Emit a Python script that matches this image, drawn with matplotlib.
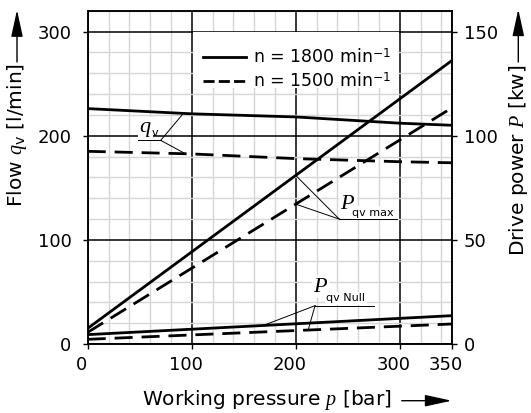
import numpy as np
import matplotlib
matplotlib.use("Agg")
import matplotlib.pyplot as plt
import matplotlib.transforms as mtransforms
from matplotlib.lines import Line2D
from matplotlib.patches import Rectangle, FancyArrowPatch, ArrowStyle

plt.rcParams['font.family'] = 'DejaVu Sans'
plt.rcParams['mathtext.fontset'] = 'custom'
plt.rcParams['mathtext.rm'] = 'DejaVu Sans'
plt.rcParams['mathtext.it'] = 'Liberation Serif:italic'

# flow curves (l/min) over working pressure (bar)
p_flow = [0, 100, 200, 300, 350]
qv_1800 = [226, 221, 218, 212, 210]
qv_1500 = [185, 182.5, 178, 175, 174]

# drive power curves (kW)
p_power = [0, 350]
pmax_1800 = [7.5, 136]
pmax_1500 = [5.6, 113.3]
pnull_1800 = [4.5, 13.6]
pnull_1500 = [2.25, 9.6]

x_ticks = [0, 100, 200, 300, 350]
flow_ticks = [0, 100, 200, 300]
power_ticks = [0, 50, 100, 150]
speed_labels = ['n = 1800 min$^{\\mathrm{-1}}$', 'n = 1500 min$^{\\mathrm{-1}}$']

W, H = 531, 413
fig = plt.figure(figsize=(W / 100, H / 100), dpi=100)
ax = fig.add_axes([87.7 / W, 1 - 344 / H, 364 / W, 333.3 / H])
ax2 = ax.twinx()

ax.set_xlim(0, 350)
ax.set_ylim(0, 320)
ax2.set_ylim(0, 160)

# grid: light every 20, black at the hundreds
ax.set_xticks(np.arange(0, 351, 20), minor=True)
ax.set_yticks(np.arange(0, 321, 20), minor=True)
ax.grid(which='minor', color='#d6d6d6', lw=1.0, zorder=0)
ax.grid(which='major', color='black', lw=1.1, zorder=0.5)
ax.set_axisbelow(True)
ax.set_xticks(x_ticks)
ax.set_yticks(flow_ticks)
ax2.set_yticks(power_ticks)

fs = 13
ax.tick_params(which='minor', length=0)
ax.tick_params(axis='y', which='major', direction='out', length=3.6, width=1, pad=8, labelsize=fs)
ax.tick_params(axis='x', which='major', direction='out', length=3.6, width=1, pad=5, labelsize=fs)
ax2.tick_params(axis='y', direction='out', length=3.6, width=1, pad=5, labelsize=fs)
for a in (ax, ax2):
    for s in a.spines.values():
        s.set_linewidth(1.1)

shift = mtransforms.ScaledTranslation(-6 / 100, 0, fig.dpi_scale_trans)
for lab in ax.get_xticklabels():
    lab.set_transform(lab.get_transform() + shift)

dash = (6.5, 3.2)
lw = 2.0
ax.plot(p_flow, qv_1800, color='black', lw=lw, zorder=3)
ax.plot(p_flow, qv_1500, color='black', lw=lw, dashes=dash, zorder=3)
ax2.plot(p_power, pmax_1800, color='black', lw=lw)
ax2.plot(p_power, pmax_1500, color='black', lw=lw, dashes=dash)
ax2.plot(p_power, pnull_1800, color='black', lw=lw)
ax2.plot(p_power, pnull_1500, color='black', lw=lw, dashes=dash)

# legend sits on a white patch over the grid
ax.add_patch(Rectangle((101, 246), 198, 53.5, facecolor='white', edgecolor='none', zorder=1))
handles = [Line2D([], [], color='black', lw=lw),
           Line2D([], [], color='black', lw=lw, dashes=(4.0, 1.5))]
ax2.legend(handles, speed_labels, loc='upper left', bbox_to_anchor=(0.316, 0.888),
           frameon=False, borderpad=0, borderaxespad=0, handlelength=2.5,
           handletextpad=0.4, labelspacing=0.3, fontsize=12.5)

# leader lines and labels
thin = dict(color='black', lw=0.7, zorder=2.5)
lbl_box = dict(facecolor='white', edgecolor='none', pad=1.0)

# q_v
qj = (70.2, 195.5)
ax.plot([48.7, qj[0]], [qj[1], qj[1]], **thin)
ax.plot([qj[0], 92], [qj[1], np.interp(92, p_flow, qv_1800)], **thin)
ax.plot([qj[0], 94], [qj[1], np.interp(94, p_flow, qv_1500)], **thin)
ax.text(49.5, 197, '$q$', fontsize=16, ha='left', va='bottom', zorder=2, bbox=lbl_box)
ax.text(61.5, 197.5, 'v', fontsize=8, ha='left', va='bottom', zorder=2)

# P_qv max
mj = (241.9, 119.9)
ax.plot([mj[0], 297.1], [mj[1], mj[1]], **thin)
ax.plot([mj[0], 200], [mj[1], 2 * np.interp(200, p_power, pmax_1800)], **thin)
ax.plot([mj[0], 200], [mj[1], 2 * np.interp(200, p_power, pmax_1500)], **thin)
ax.text(243, 135, '$P$', fontsize=16, ha='left', va='center', zorder=2, bbox=lbl_box)
ax.text(254.5, 126, 'qv max', fontsize=8, ha='left', va='center', zorder=2, bbox=lbl_box)

# P_qv Null
nj = (218.6, 36.8)
ax.plot([nj[0], 275.6], [nj[1], nj[1]], **thin)
ax.plot([nj[0], 168.8], [nj[1], 2 * np.interp(168.8, p_power, pnull_1800)], **thin)
ax.plot([nj[0], 212], [nj[1], 2 * np.interp(212, p_power, pnull_1500)], **thin)
ax.text(217, 55.5, '$P$', fontsize=16, ha='left', va='center', zorder=2, bbox=lbl_box)
ax.text(229.5, 44, 'qv Null', fontsize=8, ha='left', va='center', zorder=2, bbox=lbl_box)

# axis titles with arrows
afs = 14.5
fig.text(17 / W, 1 - 63 / H, 'Flow $q_\\mathrm{v}$ [l/min]', rotation=90,
         ha='center', va='top', fontsize=afs)
fig.text(518 / W, 1 - 65 / H, 'Drive power $P$ [kw]', rotation=90,
         ha='center', va='top', fontsize=afs)
fig.text(392 / W, 1 - 400 / H, 'Working pressure $p$ [bar]',
         ha='right', va='center', fontsize=afs)

head = ArrowStyle('-|>', head_length=16.5, head_width=3.6)
for a, b in [((17, 62), (17, 10)), ((518.3, 62), (518.3, 9.3)), ((401.7, 400.7), (451.7, 400.7))]:
    arr = FancyArrowPatch((a[0], H - a[1]), (b[0], H - b[1]), arrowstyle=head,
                          mutation_scale=1, color='black', lw=1.0,
                          shrinkA=0, shrinkB=0, transform=None)
    fig.patches.append(arr)

fig.savefig('out.png', dpi=100)
